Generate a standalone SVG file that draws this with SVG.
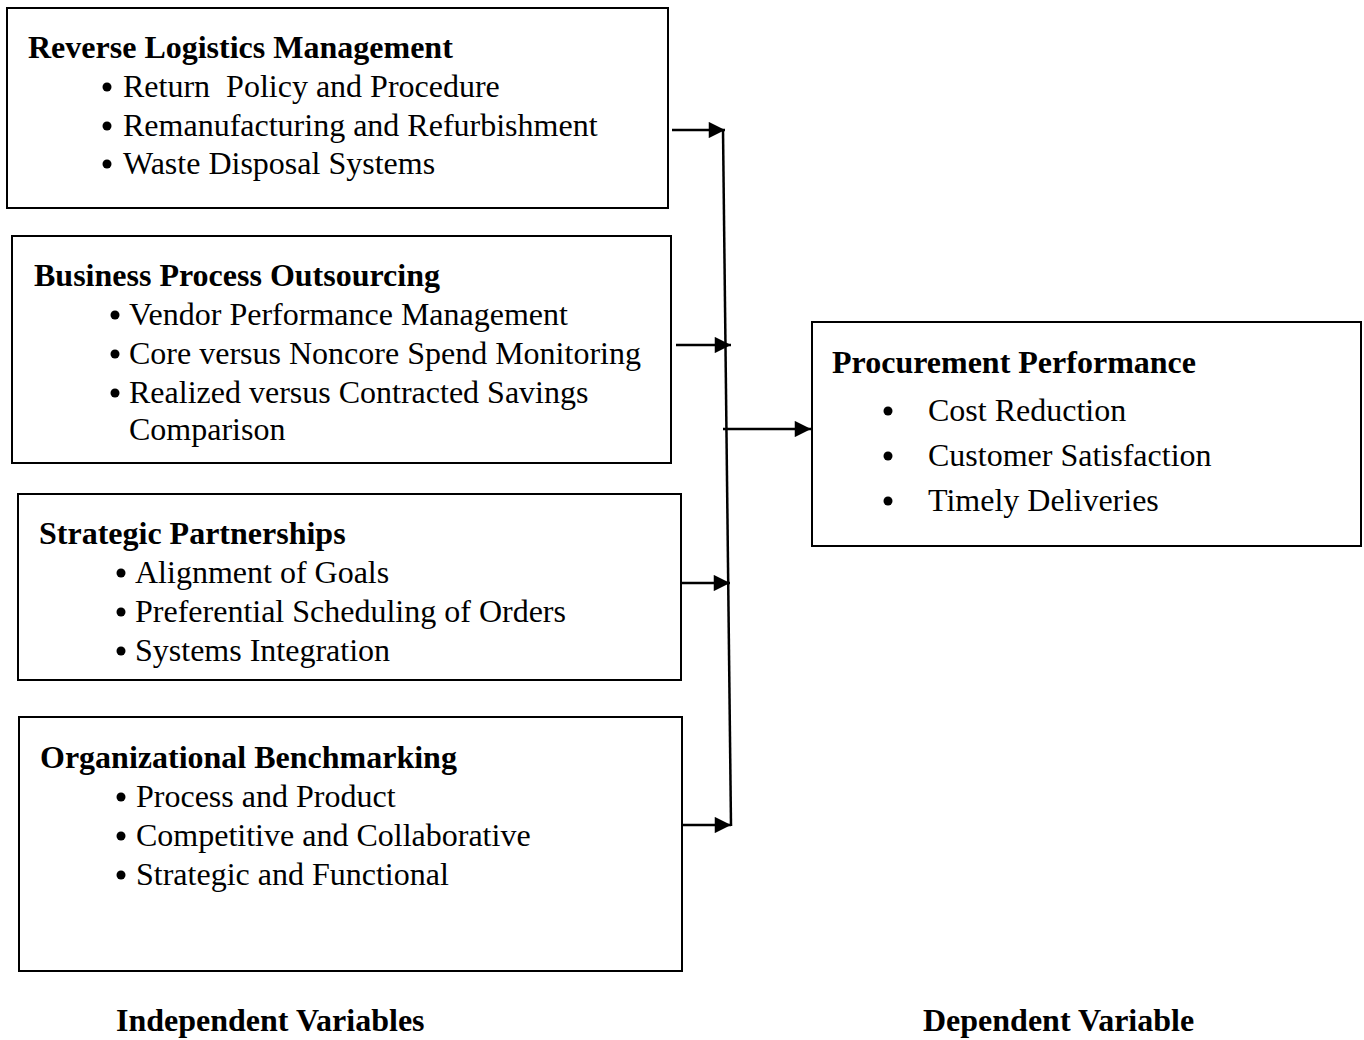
<svg xmlns="http://www.w3.org/2000/svg" width="1364" height="1040" viewBox="0 0 1364 1040">
<style>
.box{fill:#fff;stroke:#000;stroke-width:2}
text{font-family:"Liberation Serif","Times New Roman",serif;font-size:32px;fill:#000;white-space:pre}
.t{font-weight:bold}
.c{stroke:#000;stroke-width:2.5;fill:none}
.dot{fill:#000}
</style>
<defs>
<marker id="ah" viewBox="0 0 10 10" refX="10" refY="5" markerWidth="7" markerHeight="6.5" markerUnits="strokeWidth" orient="auto">
<path d="M0,0 L10,5 L0,10 z" fill="#000"/>
</marker>
</defs>
<g id="n1">
<rect class="box" x="7" y="8" width="661" height="200"/>
<text class="t" x="28" y="58">Reverse Logistics Management</text>
<circle class="dot" cx="107" cy="87" r="4.5"/><text x="123" y="97" xml:space="preserve">Return  Policy and Procedure</text>
<circle class="dot" cx="107" cy="126" r="4.5"/><text x="123" y="136">Remanufacturing and Refurbishment</text>
<circle class="dot" cx="107" cy="164" r="4.5"/><text x="123" y="174">Waste Disposal Systems</text>
</g>
<g id="n2">
<rect class="box" x="12" y="236" width="659" height="227"/>
<text class="t" x="34" y="286">Business Process Outsourcing</text>
<circle class="dot" cx="115" cy="315" r="4.5"/><text x="129" y="325">Vendor Performance Management</text>
<circle class="dot" cx="115" cy="354" r="4.5"/><text x="129" y="364">Core versus Noncore Spend Monitoring</text>
<circle class="dot" cx="115" cy="393" r="4.5"/><text x="129" y="403">Realized versus Contracted Savings</text>
<text x="129" y="440">Comparison</text>
</g>
<g id="n3">
<rect class="box" x="18" y="494" width="663" height="186"/>
<text class="t" x="39" y="544">Strategic Partnerships</text>
<circle class="dot" cx="121" cy="573" r="4.5"/><text x="135" y="583">Alignment of Goals</text>
<circle class="dot" cx="121" cy="612" r="4.5"/><text x="135" y="622">Preferential Scheduling of Orders</text>
<circle class="dot" cx="121" cy="651" r="4.5"/><text x="135" y="661">Systems Integration</text>
</g>
<g id="n4">
<rect class="box" x="19" y="717" width="663" height="254"/>
<text class="t" x="40" y="768">Organizational Benchmarking</text>
<circle class="dot" cx="121" cy="797" r="4.5"/><text x="136" y="807">Process and Product</text>
<circle class="dot" cx="121" cy="836" r="4.5"/><text x="136" y="846">Competitive and Collaborative</text>
<circle class="dot" cx="121" cy="875" r="4.5"/><text x="136" y="885">Strategic and Functional</text>
</g>
<g id="n5">
<rect class="box" x="812" y="322" width="549" height="224"/>
<text class="t" x="832" y="373">Procurement Performance</text>
<circle class="dot" cx="888" cy="411" r="4.5"/><text x="928" y="421">Cost Reduction</text>
<circle class="dot" cx="888" cy="456" r="4.5"/><text x="928" y="466">Customer Satisfaction</text>
<circle class="dot" cx="888" cy="501" r="4.5"/><text x="928" y="511">Timely Deliveries</text>
</g>
<g id="labels">
<text class="t" x="116" y="1031">Independent Variables</text>
<text class="t" x="923" y="1031">Dependent Variable</text>
</g>
<g id="connectors">
<line class="c" x1="723" y1="130" x2="731" y2="826"/>
<line class="c" x1="672" y1="130" x2="725" y2="130" marker-end="url(#ah)"/>
<line class="c" x1="676" y1="345" x2="731" y2="345" marker-end="url(#ah)"/>
<line class="c" x1="723" y1="429" x2="811" y2="429" marker-end="url(#ah)"/>
<line class="c" x1="681" y1="583" x2="730" y2="583" marker-end="url(#ah)"/>
<line class="c" x1="682" y1="825" x2="731" y2="825" marker-end="url(#ah)"/>
</g>
</svg>
